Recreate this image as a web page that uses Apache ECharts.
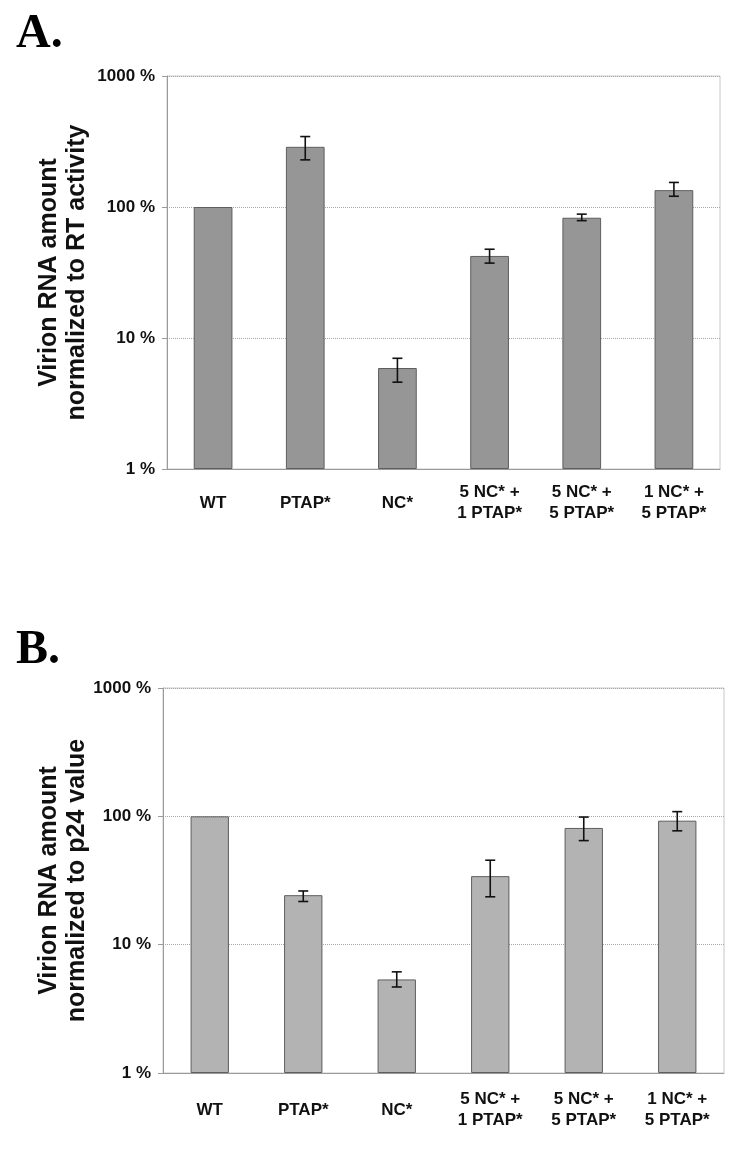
<!DOCTYPE html>
<html>
<head>
<meta charset="utf-8">
<script src="https://cdn.jsdelivr.net/npm/echarts@6/dist/echarts.min.js"></script>
<style>
html,body{margin:0;padding:0;background:#fff;}
#chart{width:750px;height:1155px;}
</style>
</head>
<body>
<div id="chart"></div>
<script>
// ---- data ----
const categories = ['WT', 'PTAP*', 'NC*', '5 NC* +\n1 PTAP*', '5 NC* +\n5 PTAP*', '1 NC* +\n5 PTAP*'];
const yTicks = [1, 10, 100, 1000];

// Panel A: normalized to RT activity (%)
const valuesA = [100, 288, 5.9, 42.3, 82.8, 134.5];
const errLowA = [100, 229, 4.6, 37.3, 78.7, 120.8];
const errHighA = [100, 345, 7.0, 47.6, 88.2, 154];

// Panel B: normalized to p24 value (%)
const valuesB = [100, 24.3, 5.36, 34.2, 81.2, 92.5];
const errLowB = [100, 21.7, 4.68, 23.6, 64.7, 77.1];
const errHighB = [100, 26.2, 6.14, 45.5, 98.7, 108.8];

const titleA = 'Virion RNA amount\nnormalized to RT activity';
const titleB = 'Virion RNA amount\nnormalized to p24 value';

const chart = echarts.init(document.getElementById('chart'), null, {renderer: 'canvas'});
const FONT = '"Liberation Sans", Arial, sans-serif';

function errData(low, high) {
  return low.map((l, i) => [i, l, high[i]]);
}
function errRender(params, api) {
  const i = api.value(0);
  const lo = api.coord([i, api.value(1)]);
  const hi = api.coord([i, api.value(2)]);
  const x = lo[0];
  const cap = 5;
  const style = {stroke: '#111', lineWidth: 1.6};
  if (Math.abs(lo[1] - hi[1]) < 0.5) return null;
  return {
    type: 'group',
    children: [
      {type: 'line', shape: {x1: x, y1: lo[1], x2: x, y2: hi[1]}, style},
      {type: 'line', shape: {x1: x - cap, y1: lo[1], x2: x + cap, y2: lo[1]}, style},
      {type: 'line', shape: {x1: x - cap, y1: hi[1], x2: x + cap, y2: hi[1]}, style}
    ]
  };
}

function xAxisCfg(gridIndex, margin) {
  return {
    type: 'category', gridIndex, data: categories,
    axisLine: {show: true, lineStyle: {color: '#9a9a9a', width: 1}},
    axisTick: {show: false},
    axisLabel: {interval: 0, fontFamily: FONT, fontWeight: 'bold', fontSize: 17, color: '#111',
      margin, verticalAlign: 'middle', lineHeight: 21, align: 'center'}
  };
}
function yAxisCfg(gridIndex, name, gap) {
  return {
    type: 'log', logBase: 10, gridIndex, min: 1, max: 1000,
    axisLine: {show: true, lineStyle: {color: '#9a9a9a', width: 1}},
    axisTick: {show: true, length: 5, lineStyle: {color: '#9a9a9a'}},
    splitLine: {show: true, lineStyle: {color: '#a8a8a8', type: 'dotted', width: 1}},
    axisLabel: {fontFamily: FONT, fontWeight: 'bold', fontSize: 17, color: '#111', margin: 12,
      formatter: v => (yTicks.includes(Math.round(v)) ? Math.round(v) + ' %' : '')},
    name, nameLocation: 'middle', nameRotate: 90, nameGap: gap, nameMoveOverlap: false,
    nameTextStyle: {fontFamily: FONT, fontWeight: 'bold', fontSize: 25, color: '#111', lineHeight: 28, align: 'center'}
  };
}

const option = {
  backgroundColor: '#fff',
  animation: false,
  graphic: [
    {type: 'text', left: 16, top: 11, style: {text: 'A.', font: 'bold 48px "Liberation Serif", "Times New Roman", serif', fill: '#000'}},
    {type: 'text', left: 16, top: 627, style: {text: 'B.', font: 'bold 48px "Liberation Serif", "Times New Roman", serif', fill: '#000'}}
  ],
  grid: [
    {left: 167, top: 76, width: 553, height: 393, show: true, borderColor: '#c8c8c8', borderWidth: 1},
    {left: 163, top: 688, width: 561, height: 385, show: true, borderColor: '#c8c8c8', borderWidth: 1}
  ],
  xAxis: [xAxisCfg(0, 34), xAxisCfg(1, 37)],
  yAxis: [yAxisCfg(0, titleA, 76), yAxisCfg(1, titleB, 72)],
  series: [
    {type: 'bar', xAxisIndex: 0, yAxisIndex: 0, data: valuesA, barWidth: '42%',
      itemStyle: {color: '#969696', borderColor: '#5e5e5e', borderWidth: 1}},
    {type: 'custom', xAxisIndex: 0, yAxisIndex: 0, data: errData(errLowA, errHighA), renderItem: errRender, z: 5},
    {type: 'bar', xAxisIndex: 1, yAxisIndex: 1, data: valuesB, barWidth: '41%',
      itemStyle: {color: '#b3b3b3', borderColor: '#5e5e5e', borderWidth: 1}},
    {type: 'custom', xAxisIndex: 1, yAxisIndex: 1, data: errData(errLowB, errHighB), renderItem: errRender, z: 5}
  ]
};
chart.setOption(option);
</script>
</body>
</html>
